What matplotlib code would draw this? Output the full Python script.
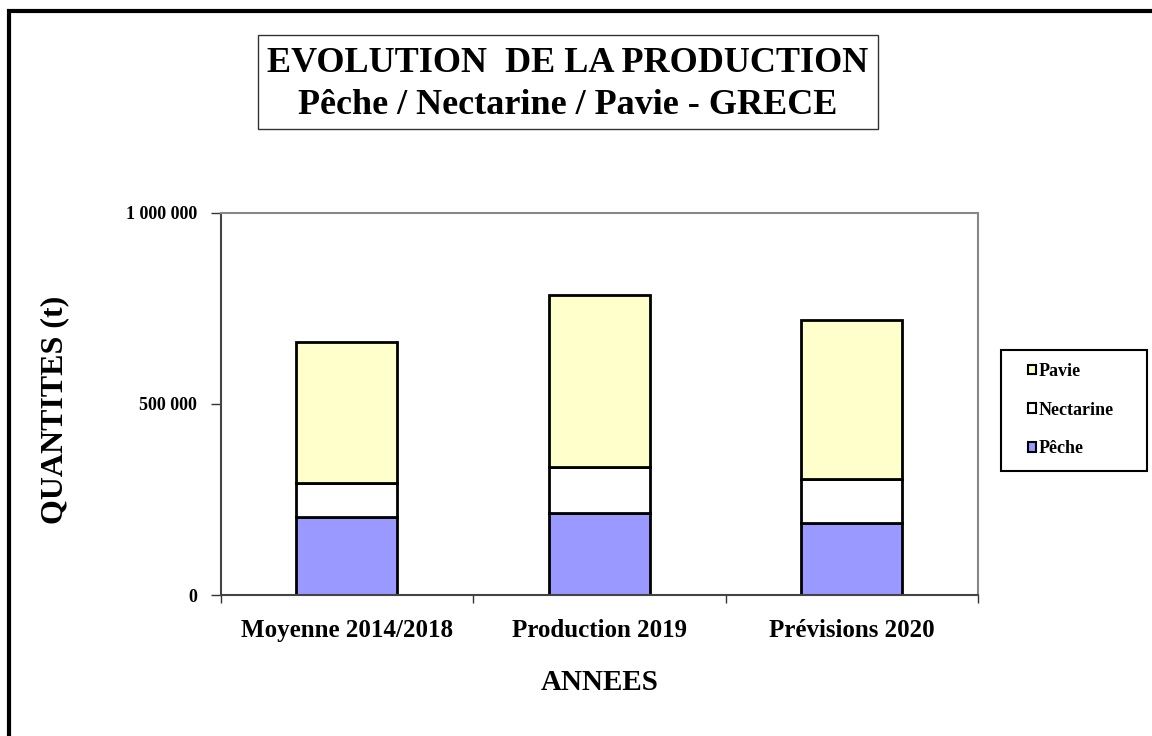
import matplotlib.pyplot as plt
from matplotlib.patches import Rectangle
from matplotlib.ticker import FuncFormatter

plt.rcParams['font.family'] = ['Liberation Serif', 'DejaVu Serif']
plt.rcParams['font.weight'] = 'bold'

categories = ["Moyenne 2014/2018", "Production 2019", "Prévisions 2020"]
peche = [203000, 215000, 189000]
nectarine = [91000, 119000, 114000]
pavie = [369000, 451000, 416000]

fig = plt.figure(figsize=(11.52, 7.36), dpi=100)
W, H = 1152, 736

# outer frame (only top/left visible in the picture)
fig.patches.append(Rectangle((9 / W, -0.1), 1.2, 1 - 11 / H + 0.1, transform=fig.transFigure,
                             fill=False, edgecolor="black", linewidth=3))

ax = fig.add_axes([220.7 / W, 1 - 595 / H, (978 - 220.7) / W, (595 - 212.7) / H])

x = list(range(len(categories)))
bottom2 = [a + b for a, b in zip(peche, nectarine)]
b1 = ax.bar(x, peche, 0.4, color="#9999FF", edgecolor="black", linewidth=2, label="Pêche")
b2 = ax.bar(x, nectarine, 0.4, bottom=peche, color="white", edgecolor="black", linewidth=2, label="Nectarine")
b3 = ax.bar(x, pavie, 0.4, bottom=bottom2, color="#FFFFCC", edgecolor="black", linewidth=2, label="Pavie")

ax.set_xlim(-0.5, 2.5)
ax.set_ylim(0, 1000000)
ax.set_yticks([0, 500000, 1000000])
ax.yaxis.set_major_formatter(FuncFormatter(lambda v, p: f"{int(v):,}".replace(",", " ")))
ax.set_xticks(x)
ax.set_xticklabels(categories, fontsize=18, fontweight="bold")
ax.set_xticks([-0.5, 0.5, 1.5, 2.5], minor=True)
ax.tick_params(axis="x", which="major", length=0, pad=17)
ax.tick_params(axis="x", which="minor", length=6, width=1, color="#333333")
ax.tick_params(axis="y", length=7, width=1, color="#333333", labelsize=13, pad=10)
for lab in ax.get_yticklabels():
    lab.set_fontweight("bold")

ax.spines["top"].set_color("#888888")
ax.spines["right"].set_color("#888888")
ax.spines["left"].set_color("#444444")
ax.spines["bottom"].set_color("#444444")
for s in ax.spines.values():
    s.set_linewidth(1.5)

# axis titles
fig.text(55 / W, 1 - 410 / H, "QUANTITES (t)", rotation=90, ha="center", va="center",
         fontsize=23, fontweight="bold")
fig.text(600 / W, 1 - 682 / H, "ANNEES", ha="center", va="center",
         fontsize=21, fontweight="bold")

# title box
fig.patches.append(Rectangle((258 / W, 1 - 129 / H), (878 - 258) / W, (129 - 35) / H,
                             transform=fig.transFigure, fill=False, edgecolor="#333333", linewidth=1))
fig.text(568 / W, 1 - 63 / H, "EVOLUTION  DE LA PRODUCTION", ha="center", va="center",
         fontsize=26, fontweight="bold")
fig.text(568 / W, 1 - 105 / H, "Pêche / Nectarine / Pavie - GRECE", ha="center", va="center",
         fontsize=26, fontweight="bold")

# legend box (drawn below the axes so the legend entries sit on top)
fig.patches.append(Rectangle((1001 / W, 1 - 471 / H), (1147 - 1001) / W, (471 - 350) / H,
                             transform=fig.transFigure, fill=False,
                             edgecolor="black", linewidth=1.5, zorder=-1))
leg = ax.legend([b3, b2, b1], ["Pavie", "Nectarine", "Pêche"],
                loc="center left", bbox_to_anchor=(1028 / W, 1 - 410 / H), bbox_transform=fig.transFigure,
                frameon=False, fontsize=13,
                handlelength=0.45, handleheight=0.45, handletextpad=0.15, labelspacing=1.2,
                borderpad=0, borderaxespad=0)
for h in leg.legend_handles:
    h.set_linewidth(1.5)

fig.savefig("out.png", dpi=100)
